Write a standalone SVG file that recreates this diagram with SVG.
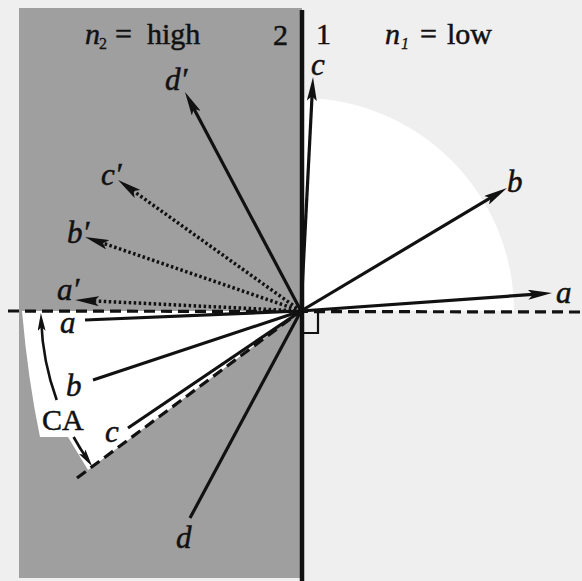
<svg xmlns="http://www.w3.org/2000/svg" width="582" height="581" viewBox="0 0 582 581">
<style>
.lbl{font-family:"Liberation Serif","Times New Roman",serif;font-style:italic;font-size:31px;fill:#111;stroke:#111;stroke-width:0.5}
.up{font-family:"Liberation Serif","Times New Roman",serif;font-size:30px;fill:#111;stroke:#111;stroke-width:0.5}
.sub{font-family:"Liberation Serif","Times New Roman",serif;font-size:16px;fill:#111;stroke:#111;stroke-width:0.3}
.ray{stroke:#111;stroke-width:3.2;fill:none}
.dot{stroke:#111;stroke-width:3.5;fill:none;stroke-dasharray:2.5 2.5}
.dash{stroke:#111;stroke-width:3.2;fill:none;stroke-dasharray:11 6}
</style>
<defs>
<marker id="ah" markerUnits="userSpaceOnUse" viewBox="0 0 24 10" refX="12" refY="5" markerWidth="24" markerHeight="10" orient="auto">
<path d="M0,0 L24,5 L0,10 L5,5 Z" fill="#111"/>
</marker>
<marker id="ahs" markerUnits="userSpaceOnUse" viewBox="0 0 18 8" refX="10" refY="4" markerWidth="18" markerHeight="8" orient="auto">
<path d="M0,0 L18,4 L0,8 L4,4 Z" fill="#111"/>
</marker>
</defs>
<g id="background">
<rect x="0" y="0" width="582" height="581" fill="#efefef"/>
<rect x="19" y="8" width="283" height="570" fill="#9f9f9f"/>
<path d="M301,311 L301,98 A213,213 0 0 1 514,311 Z" fill="#ffffff"/>
<path d="M301,311 L22,311 Q28,380 40,437 L68,437 L88,470 Z" fill="#ffffff"/>
</g>
<g id="interface">
<line x1="302" y1="10" x2="302" y2="581" stroke="#111" stroke-width="4.5"/>
<line class="dash" x1="8" y1="311" x2="582" y2="312"/>
<line class="dash" x1="77" y1="478" x2="301" y2="311"/>
<path d="M302,333 L318,333 L318,312" fill="none" stroke="#111" stroke-width="2.2"/>
</g>
<g id="connectors">
<line class="ray" x1="85" y1="320" x2="301" y2="311"/>
<line class="ray" x1="93" y1="380" x2="301" y2="311"/>
<line class="ray" x1="128" y1="428" x2="301" y2="311"/>
<line class="ray" x1="190" y1="518" x2="301" y2="311"/>
<line class="ray" x1="301" y1="311" x2="540" y2="293.9" marker-end="url(#ah)"/>
<line class="ray" x1="301" y1="311" x2="496.7" y2="194.2" marker-end="url(#ah)"/>
<line class="ray" x1="301" y1="311" x2="312.4" y2="89" marker-end="url(#ah)"/>
<line class="ray" x1="301" y1="311" x2="190.6" y2="102.6" marker-end="url(#ah)"/>
<line class="dot" x1="301" y1="311" x2="127.8" y2="187" marker-end="url(#ah)"/>
<line class="dot" x1="301" y1="311" x2="96.4" y2="240.9" marker-end="url(#ah)"/>
<line class="dot" x1="301" y1="311" x2="87" y2="300.6" marker-end="url(#ah)"/>
<path class="ray" style="stroke-width:2.6" d="M56.7,400 A260,260 0 0 1 41.2,321" marker-end="url(#ahs)"/>
<path class="ray" style="stroke-width:2.6" d="M73.6,437 A260,260 0 0 0 87.7,459.8" marker-end="url(#ahs)"/>
</g>
<g id="labels">
<text class="up" x="85" y="44" font-style="italic">n</text>
<text class="sub" x="99" y="49">2</text>
<text class="up" x="115" y="44">=</text>
<text class="up" x="147" y="44">high</text>
<text class="up" x="273" y="45">2</text>
<text class="up" x="316" y="44">1</text>
<text class="up" x="385" y="44" font-style="italic">n</text>
<text class="sub" x="401" y="49" font-style="italic">1</text>
<text class="up" x="420" y="44">=</text>
<text class="up" x="447" y="44">low</text>
<text class="lbl" x="556" y="303">a</text>
<text class="lbl" x="507" y="192">b</text>
<text class="lbl" x="311" y="75">c</text>
<text class="lbl" x="165" y="90">d′</text>
<text class="lbl" x="101" y="185">c′</text>
<text class="lbl" x="67" y="243">b′</text>
<text class="lbl" x="57" y="300">a′</text>
<text class="lbl" x="60" y="333">a</text>
<text class="lbl" x="66" y="396">b</text>
<text class="lbl" x="105" y="442">c</text>
<text class="lbl" x="176" y="548">d</text>
<text class="up" x="42" y="430">CA</text>
</g>
</svg>
